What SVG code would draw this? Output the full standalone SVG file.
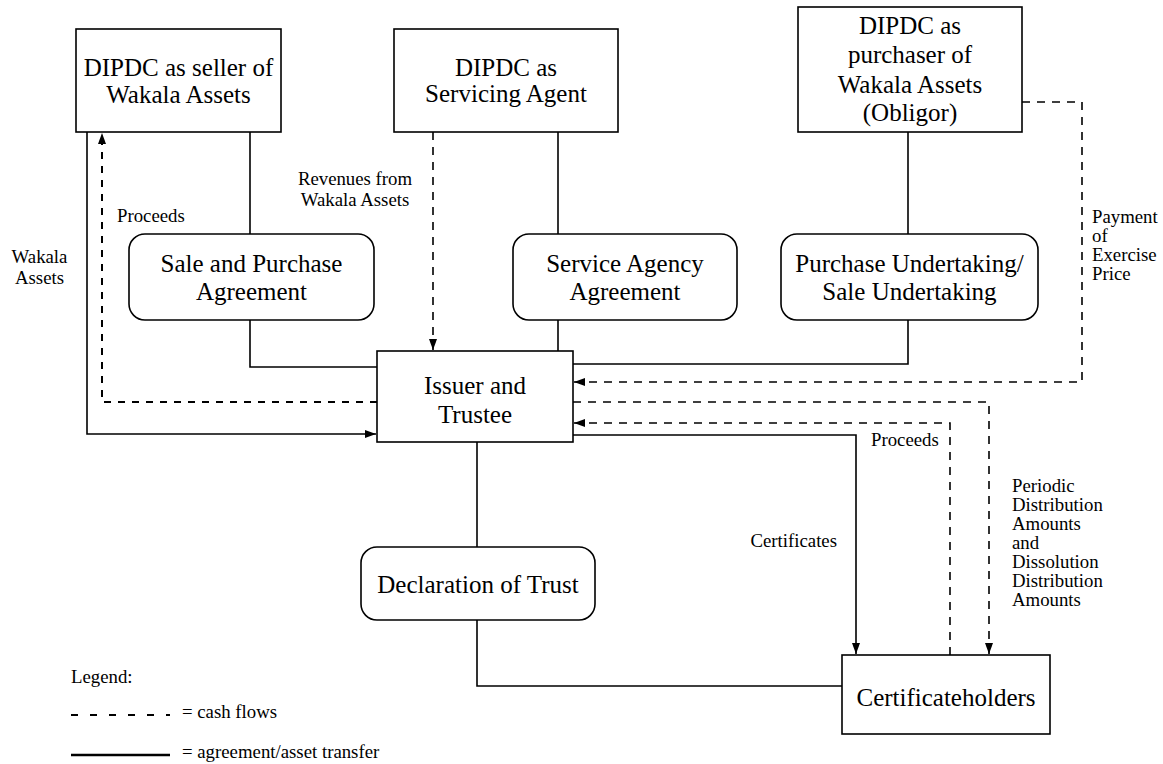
<svg xmlns="http://www.w3.org/2000/svg" width="1163" height="764" viewBox="0 0 1163 764">
<defs>
<style>
.box{fill:#fff;stroke:#000;stroke-width:1.6}
.big{font-family:"Liberation Serif","Times New Roman",serif;font-size:25px;fill:#000;text-anchor:middle}
.small{font-family:"Liberation Serif","Times New Roman",serif;font-size:18.8px;fill:#000}
.solid{fill:none;stroke:#000;stroke-width:1.6}
.dash{fill:none;stroke:#000;stroke-width:1.6;stroke-dasharray:8 7}
.dashL{fill:none;stroke:#000;stroke-width:2;stroke-dasharray:7 7}
</style>
<marker id="arr" markerUnits="userSpaceOnUse" markerWidth="12" markerHeight="10" viewBox="0 0 12 10" refX="11" refY="5" orient="auto">
<path d="M0,1 L11,5 L0,9 Z" fill="#000"/>
</marker>
</defs>
<rect width="1163" height="764" fill="#fff"/>

<g id="connectors">
<path class="solid" d="M250,132 V234"/>
<path class="solid" d="M250,320 V367 H377"/>
<path class="solid" d="M558,132 V234"/>
<path class="solid" d="M558,320 V351"/>
<path class="solid" d="M908,132 V234"/>
<path class="solid" d="M908,320 V364 H573"/>
<path class="dash" d="M433,132 V350" marker-end="url(#arr)"/>
<path class="dashL" d="M377,402 H102 V133" marker-end="url(#arr)"/>
<path class="solid" d="M87,132 V434 H376" marker-end="url(#arr)"/>
<path class="dash" d="M1022,102 H1082 V382 H574" marker-end="url(#arr)"/>
<path class="dash" d="M573,402 H989 V654" marker-end="url(#arr)"/>
<path class="dash" d="M950,655 V423 H574" marker-end="url(#arr)"/>
<path class="solid" d="M573,435 H856 V654" marker-end="url(#arr)"/>
<path class="solid" d="M477,442 V547"/>
<path class="solid" d="M477,620 V686 H842"/>
</g>

<g id="seller">
<rect class="box" x="76" y="29" width="205" height="103"/>
<text class="big" x="178.5" y="76">DIPDC as seller of<tspan x="178.5" dy="27">Wakala Assets</tspan></text>
</g>
<g id="servicer">
<rect class="box" x="394" y="29" width="224" height="103"/>
<text class="big" x="506" y="76">DIPDC as<tspan x="506" dy="26">Servicing Agent</tspan></text>
</g>
<g id="purchaser">
<rect class="box" x="798" y="7" width="224" height="125"/>
<text class="big" x="910" y="34">DIPDC as<tspan x="910" dy="29">purchaser of</tspan><tspan x="910" dy="30">Wakala Assets</tspan><tspan x="910" dy="28">(Obligor)</tspan></text>
</g>
<g id="spa">
<rect class="box" x="129" y="234" width="245" height="86" rx="16"/>
<text class="big" x="251.5" y="272">Sale and Purchase<tspan x="251.5" dy="28">Agreement</tspan></text>
</g>
<g id="saa">
<rect class="box" x="513" y="234" width="224" height="86" rx="16"/>
<text class="big" x="625" y="272">Service Agency<tspan x="625" dy="28">Agreement</tspan></text>
</g>
<g id="pu">
<rect class="box" x="781" y="234" width="257" height="86" rx="16"/>
<text class="big" x="909.5" y="272">Purchase Undertaking/<tspan x="909.5" dy="28">Sale Undertaking</tspan></text>
</g>
<g id="issuer">
<rect class="box" x="377" y="351" width="196" height="91"/>
<text class="big" x="475" y="394">Issuer and<tspan x="475" dy="29">Trustee</tspan></text>
</g>
<g id="dot">
<rect class="box" x="361" y="547" width="234" height="73" rx="16"/>
<text class="big" x="478" y="593">Declaration of Trust</text>
</g>
<g id="holders">
<rect class="box" x="842" y="655" width="208" height="79"/>
<text class="big" x="946" y="706">Certificateholders</text>
</g>

<g id="labels">
<text class="small" x="117" y="222">Proceeds</text>
<text class="small" x="39.5" y="263" text-anchor="middle">Wakala<tspan x="39.5" dy="21">Assets</tspan></text>
<text class="small" x="355" y="185" text-anchor="middle">Revenues from<tspan x="355" dy="21">Wakala Assets</tspan></text>
<text class="small" x="1092" y="223">Payment<tspan x="1092" dy="19">of</tspan><tspan x="1092" dy="19">Exercise</tspan><tspan x="1092" dy="19">Price</tspan></text>
<text class="small" x="871" y="446">Proceeds</text>
<text class="small" x="837" y="547" text-anchor="end">Certificates</text>
<text class="small" x="1012" y="492">Periodic<tspan x="1012" dy="19">Distribution</tspan><tspan x="1012" dy="19">Amounts</tspan><tspan x="1012" dy="19">and</tspan><tspan x="1012" dy="19">Dissolution</tspan><tspan x="1012" dy="19">Distribution</tspan><tspan x="1012" dy="19">Amounts</tspan></text>
</g>

<g id="legend">
<text class="small" x="71" y="683">Legend:</text>
<line x1="71" y1="715" x2="170" y2="715" stroke="#000" stroke-width="2.2" stroke-dasharray="7 12"/>
<text class="small" x="182" y="718">= cash flows</text>
<line x1="71" y1="755" x2="170" y2="755" stroke="#000" stroke-width="2.5"/>
<text class="small" x="182" y="758">= agreement/asset transfer</text>
</g>
</svg>
